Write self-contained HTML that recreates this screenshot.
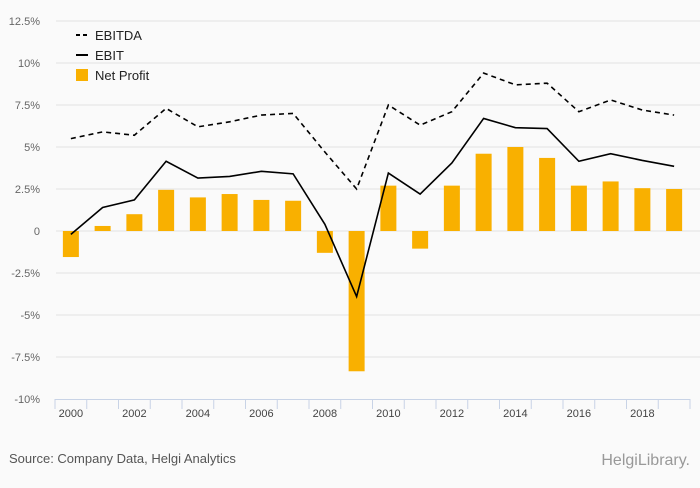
<!DOCTYPE html>
<html><head><meta charset="utf-8"><style>
body{margin:0;background:#fafafa;font-family:"Liberation Sans",sans-serif}
svg text{font-family:"Liberation Sans",sans-serif}
</style></head><body>
<svg id="chart" width="700" height="483">
<rect width="700" height="483" fill="#fafafa"/>
<g id="grid"></g><g id="bars"></g><g id="lines"></g><g id="xaxis"></g>
<g>
<line x1="76" y1="35" x2="88" y2="35" stroke="#000" stroke-width="2" stroke-dasharray="4,3"/>
<text x="95" y="40" font-size="13" fill="#222">EBITDA</text>
<line x1="76" y1="55" x2="88" y2="55" stroke="#000" stroke-width="2"/>
<text x="95" y="60" font-size="13" fill="#222">EBIT</text>
<rect x="76" y="69" width="12" height="12" fill="#f9b000"/>
<text x="95" y="80" font-size="13" fill="#222">Net Profit</text>
</g>
<text x="9" y="463" font-size="13" fill="#555">Source: Company Data, Helgi Analytics</text>
<text x="690" y="465" font-size="16" fill="#999" text-anchor="end">HelgiLibrary.</text>
</svg>
<script>
const years=[2000,2001,2002,2003,2004,2005,2006,2007,2008,2009,2010,2011,2012,2013,2014,2015,2016,2017,2018,2019];
const ebitda=[5.5,5.9,5.7,7.3,6.2,6.5,6.9,7.0,4.7,2.5,7.5,6.3,7.1,9.4,8.7,8.8,7.1,7.8,7.2,6.9];
const ebit=[-0.2,1.4,1.85,4.15,3.15,3.25,3.55,3.4,0.4,-3.9,3.45,2.2,4.05,6.7,6.15,6.1,4.15,4.6,4.2,3.85];
const netProfit=[-1.55,0.3,1.0,2.45,2.0,2.2,1.85,1.8,-1.3,-8.35,2.7,-1.05,2.7,4.6,5.0,4.35,2.7,2.95,2.55,2.5];
const yTicks=[12.5,10,7.5,5,2.5,0,-2.5,-5,-7.5,-10];
const yTickLabels=["12.5%","10%","7.5%","5%","2.5%","0","-2.5%","-5%","-7.5%","-10%"];
const NS="http://www.w3.org/2000/svg";
const X0=55,X1=690,step=(X1-X0)/years.length;
function x(i){return X0+(i+0.5)*step;}
function y(v){return 231-v*16.8;}
function mk(t,a,p){const e=document.createElementNS(NS,t);for(const k in a)e.setAttribute(k,a[k]);p.appendChild(e);return e;}
const grid=document.getElementById('grid');
yTicks.forEach((v,i)=>{
 if(v!==-10){const l=mk('line',{x1:56,x2:700,y1:y(v),y2:y(v),stroke:'#e3e3e3'},grid);
 
 }
 const t=mk('text',{x:40,y:y(v)+4,'font-size':11,fill:'#666','text-anchor':'end'},grid);
 t.textContent=yTickLabels[i];
 
 
});
const bars=document.getElementById('bars');
netProfit.forEach((v,i)=>{
 const r=mk('rect',{x:x(i)-8,width:16,y:Math.min(y(v),y(0)),height:Math.abs(y(v)-y(0)),fill:'#f9b000'},bars);
 
 
});
const lines=document.getElementById('lines');
const p1=mk('polyline',{points:ebitda.map((v,i)=>x(i)+','+y(v)).join(' '),fill:'none',stroke:'#000','stroke-width':1.6,'stroke-dasharray':'5,4'},lines);


const p2=mk('polyline',{points:ebit.map((v,i)=>x(i)+','+y(v)).join(' '),fill:'none',stroke:'#000','stroke-width':1.6},lines);


const xa=document.getElementById('xaxis');
const al=mk('line',{x1:X0,x2:X1,y1:399.5,y2:399.5,stroke:'#c8d3e6'},xa);


for(let i=0;i<=years.length;i++){mk('line',{x1:X0+i*step,x2:X0+i*step,y1:399,y2:409,stroke:'#c8d3e6'},xa);}
years.forEach((yr,i)=>{if(i%2===0){
 const t=mk('text',{x:x(i),y:417,'font-size':11,fill:'#444','text-anchor':'middle'},xa);
 t.textContent=yr;
 
 
}});
</script>
</body></html>
